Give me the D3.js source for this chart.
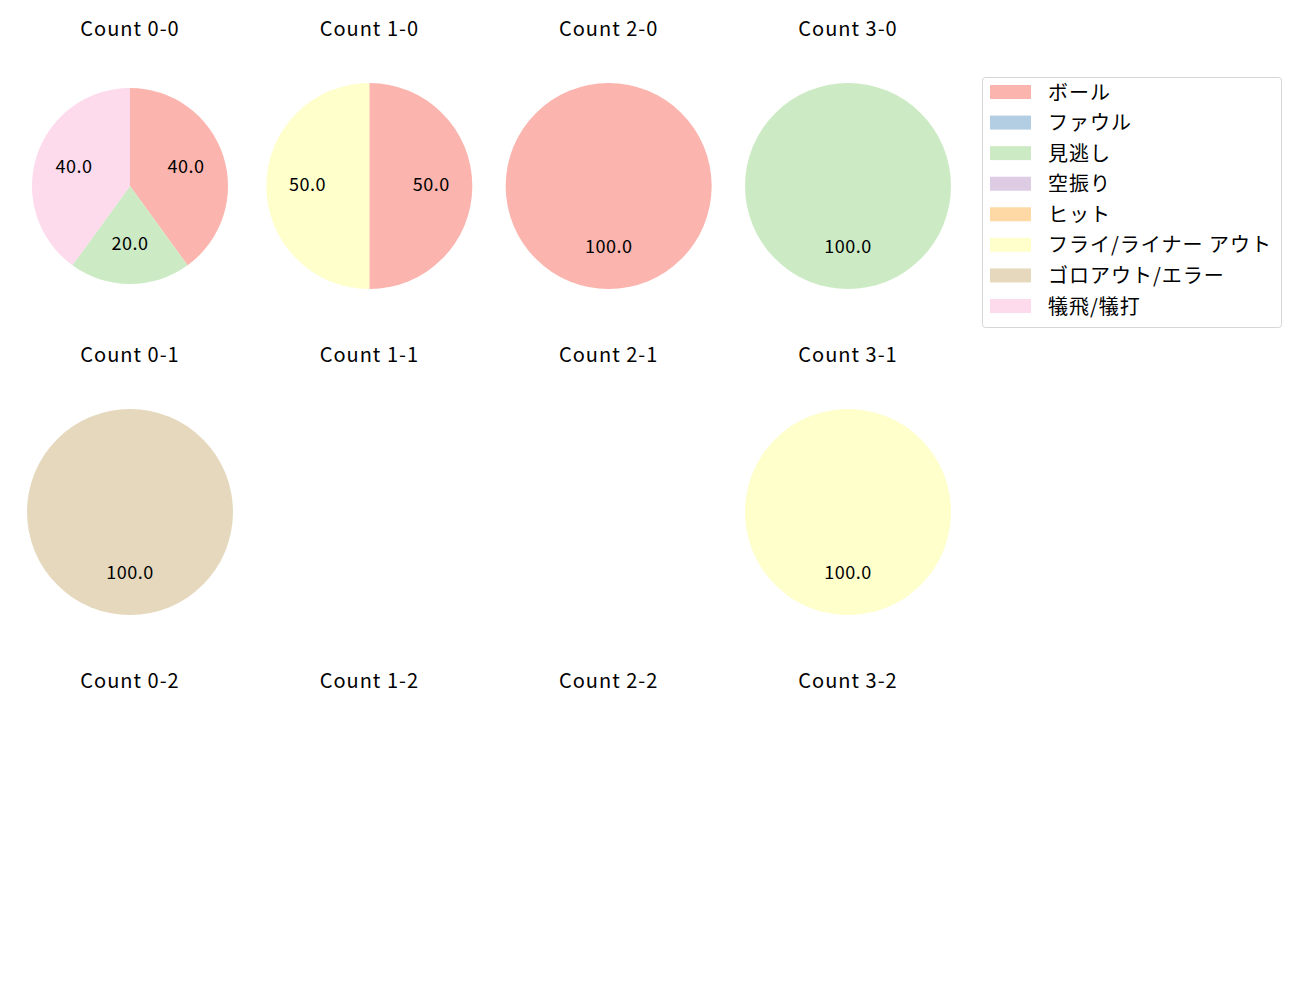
<!DOCTYPE html>
<html>
<head>
<meta charset="utf-8">
<script src="https://cdn.jsdelivr.net/npm/d3@7"></script>
<style>
  body { margin: 0; background: #fff; }
  text { font-family: "Noto Sans CJK JP", "Noto Sans", sans-serif; fill: #000; }
</style>
</head>
<body>
<div id="chart"></div>
<script>
// 凡例のカテゴリと色 (Pastel1)
var categories = ["ボール", "ファウル", "見逃し", "空振り", "ヒット", "フライ/ライナー アウト", "ゴロアウト/エラー", "犠飛/犠打"];
var colors = ["#fbb4ae", "#b3cde3", "#ccebc5", "#decbe4", "#fed9a6", "#ffffcc", "#e5d8bd", "#fddaec"];

// カウントごとの割合 (categories の順)
var balls = [0, 1, 2, 3];
var strikes = [0, 1, 2];
var count_0_0 = [40, 0, 20, 0, 0, 0, 0, 40];
var count_1_0 = [50, 0, 0, 0, 0, 50, 0, 0];
var count_2_0 = [100, 0, 0, 0, 0, 0, 0, 0];
var count_3_0 = [0, 0, 100, 0, 0, 0, 0, 0];
var count_0_1 = [0, 0, 0, 0, 0, 0, 100, 0];
var count_1_1 = [];
var count_2_1 = [];
var count_3_1 = [0, 0, 0, 0, 0, 100, 0, 0];
var count_0_2 = [];
var count_1_2 = [];
var count_2_2 = [];
var count_3_2 = [];

var counts = [
  [count_0_0, count_1_0, count_2_0, count_3_0],
  [count_0_1, count_1_1, count_2_1, count_3_1],
  [count_0_2, count_1_2, count_2_2, count_3_2]
];

var w = 1300, h = 1000;
var svg = d3.select("#chart").append("svg")
  .attr("width", w)
  .attr("height", h);

// セルの中心
var x = d3.scaleLinear().domain([0, 3]).range([130, 848]);
var y = d3.scaleLinear().domain([0, 2]).range([186, 838]);

var pie = d3.pie().sort(null).value(function(d){ return d.value; });

strikes.forEach(function(s){
  balls.forEach(function(b){
    var vals = counts[s][b];
    var cx = x(b), cy = y(s);
    var g = svg.append("g").attr("transform", "translate(" + cx + "," + cy + ")");

    g.append("text")
      .attr("x", 0)
      .attr("y", -150)
      .attr("text-anchor", "middle")
      .style("font-size", "20px")
      .style("letter-spacing", "1px")
      .text("Count " + b + "-" + s);

    if (!vals.length) return;
    var data = [];
    vals.forEach(function(v, i){
      if (v > 0) data.push({value: v, color: colors[i]});
    });
    // 3カテゴリ以上のときは少し小さく描かれている
    var r = data.length > 2 ? 98 : 103;
    var arc = d3.arc().innerRadius(0).outerRadius(r);
    var labelArc = d3.arc().innerRadius(r * 0.6).outerRadius(r * 0.6);
    var arcs = pie(data);

    g.selectAll("path")
      .data(arcs)
      .enter()
      .append("path")
      .attr("d", arc)
      .attr("fill", function(d){ return d.data.color; });

    g.selectAll("text.lbl")
      .data(arcs)
      .enter()
      .append("text")
      .attr("class", "lbl")
      .attr("transform", function(d){ return "translate(" + labelArc.centroid(d) + ")"; })
      .attr("text-anchor", "middle")
      .attr("dy", "0.28em")
      .style("font-size", "18px")
      .style("letter-spacing", "0.5px")
      .text(function(d){ return d.data.value.toFixed(1); });
  });
});

// 凡例
var legend = svg.append("g").attr("transform", "translate(982,77)");
legend.append("rect")
  .attr("x", 0.5).attr("y", 0.5)
  .attr("width", 299).attr("height", 250)
  .attr("rx", 3)
  .attr("fill", "#fff")
  .attr("stroke", "#d6d6d6");

var ly = d3.scalePoint().domain(categories).range([15, 229]);
var item = legend.selectAll("g.item")
  .data(categories)
  .enter()
  .append("g")
  .attr("class", "item")
  .attr("transform", function(d){ return "translate(0," + ly(d) + ")"; });
item.append("rect")
  .attr("x", 8).attr("y", -7)
  .attr("width", 41).attr("height", 14)
  .attr("fill", function(d, i){ return colors[i]; });
item.append("text")
  .attr("x", 66)
  .attr("dy", "0.38em")
  .style("font-size", "20px")
  .style("letter-spacing", "1px")
  .text(function(d){ return d; });
</script>
</body>
</html>
